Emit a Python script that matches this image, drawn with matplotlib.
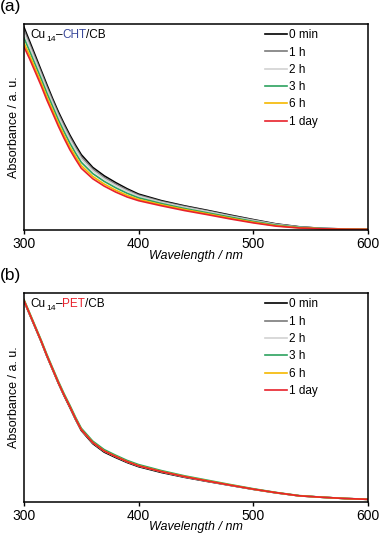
import numpy as np
from matplotlib import pyplot as plt

plt.rcParams['font.family'] = ['Liberation Sans', 'DejaVu Sans']

# wavelength grid (nm)
wl = [300, 305, 310, 315, 320, 325, 330, 335, 340, 345, 350, 360, 370, 380, 390,
      400, 420, 440, 460, 480, 500, 520, 540, 560, 580, 600]

labels = ['0 min', '1 h', '2 h', '3 h', '6 h', '1 day']
colors = ['#000000', '#7a7a7a', '#d2d2d2', '#2ca25f', '#f5b800', '#e8212b']

# (a) Cu14-CHT/CB
a_0min = [0.985, 0.915, 0.845, 0.775, 0.705, 0.637, 0.573, 0.515, 0.460, 0.410, 0.364, 0.302, 0.261,
          0.228, 0.198, 0.172, 0.140, 0.115, 0.093, 0.070, 0.048, 0.027, 0.013, 0.005, 0.002, 0.0]
a_1h = [0.971, 0.902, 0.833, 0.764, 0.694, 0.627, 0.563, 0.505, 0.450, 0.400, 0.354, 0.294, 0.253,
        0.221, 0.192, 0.167, 0.136, 0.112, 0.090, 0.067, 0.046, 0.025, 0.012, 0.005, 0.002, 0.0]
a_2h = [0.957, 0.890, 0.821, 0.752, 0.682, 0.616, 0.552, 0.494, 0.439, 0.390, 0.344, 0.286, 0.246,
        0.214, 0.186, 0.162, 0.132, 0.108, 0.087, 0.064, 0.043, 0.024, 0.011, 0.004, 0.002, 0.0]
a_3h = [0.933, 0.868, 0.801, 0.734, 0.664, 0.599, 0.534, 0.476, 0.421, 0.372, 0.327, 0.272, 0.234,
        0.203, 0.176, 0.154, 0.126, 0.102, 0.081, 0.060, 0.039, 0.021, 0.010, 0.004, 0.001, 0.0]
a_6h = [0.909, 0.847, 0.781, 0.715, 0.645, 0.581, 0.517, 0.458, 0.403, 0.355, 0.311, 0.258, 0.221,
        0.191, 0.166, 0.146, 0.120, 0.097, 0.076, 0.055, 0.035, 0.018, 0.008, 0.003, 0.001, 0.0]
a_1day = [0.890, 0.830, 0.765, 0.700, 0.630, 0.567, 0.503, 0.444, 0.389, 0.342, 0.298, 0.247, 0.211,
          0.182, 0.158, 0.140, 0.115, 0.092, 0.072, 0.051, 0.032, 0.016, 0.007, 0.003, 0.001, 0.0]

# (b) Cu14-PET/CB
b_0min = [0.962, 0.897, 0.832, 0.767, 0.697, 0.632, 0.567, 0.507, 0.451, 0.393, 0.340, 0.277, 0.236,
          0.210, 0.186, 0.166, 0.138, 0.115, 0.095, 0.076, 0.057, 0.040, 0.026, 0.019, 0.013, 0.009]
b_1h = [0.964, 0.899, 0.834, 0.769, 0.699, 0.634, 0.569, 0.509, 0.454, 0.396, 0.343, 0.281, 0.240,
        0.214, 0.189, 0.169, 0.141, 0.117, 0.097, 0.077, 0.058, 0.041, 0.026, 0.019, 0.013, 0.009]
b_2h = [0.966, 0.901, 0.836, 0.771, 0.701, 0.636, 0.571, 0.511, 0.456, 0.398, 0.345, 0.283, 0.242,
        0.216, 0.191, 0.171, 0.143, 0.118, 0.097, 0.077, 0.058, 0.041, 0.026, 0.019, 0.013, 0.009]
b_3h = [0.970, 0.905, 0.840, 0.775, 0.706, 0.641, 0.577, 0.517, 0.462, 0.404, 0.351, 0.289, 0.248,
        0.221, 0.196, 0.176, 0.147, 0.122, 0.101, 0.080, 0.060, 0.042, 0.027, 0.019, 0.013, 0.009]
b_6h = [0.966, 0.901, 0.836, 0.771, 0.701, 0.636, 0.571, 0.511, 0.456, 0.398, 0.345, 0.283, 0.242,
        0.216, 0.191, 0.171, 0.143, 0.119, 0.098, 0.078, 0.058, 0.041, 0.026, 0.019, 0.013, 0.009]
b_1day = [0.965, 0.900, 0.835, 0.770, 0.700, 0.635, 0.570, 0.510, 0.455, 0.397, 0.344, 0.282, 0.241,
          0.215, 0.190, 0.170, 0.142, 0.118, 0.097, 0.077, 0.058, 0.041, 0.026, 0.019, 0.013, 0.009]

series_a = [a_0min, a_1h, a_2h, a_3h, a_6h, a_1day]
series_b = [b_0min, b_1h, b_2h, b_3h, b_6h, b_1day]

fig = plt.figure(figsize=(3.8, 5.35), dpi=100)
ax_a = fig.add_axes([0.063, 0.570, 0.905, 0.385])
ax_b = fig.add_axes([0.063, 0.062, 0.905, 0.390])

FS = 8.5


def panel(ax, series, mid, mid_color, letter):
    for ys, lab, c in zip(series, labels, colors):
        ax.plot(wl, ys, color=c, lw=1.2, label=lab)
    ax.set_xlim(300, 600)
    ax.set_ylim(-0.003, 1.0)
    ax.set_xticks([300, 400, 500, 600])
    ax.set_yticks([])
    ax.tick_params(axis='x', direction='out', length=3, width=1, labelsize=10, pad=2)
    for sp in ax.spines.values():
        sp.set_linewidth(1.1)
    ax.set_xlabel('Wavelength / nm', style='italic', fontsize=9, labelpad=-1)
    ax.set_ylabel('Absorbance / a. u.', fontsize=9, labelpad=3)
    ax.legend(loc='upper left', frameon=False, fontsize=FS, handlelength=1.9,
              handletextpad=0.2, labelspacing=0.45, borderpad=0, borderaxespad=0,
              bbox_to_anchor=(0.70, 0.975))
    # sample name with coloured ligand part
    t1 = ax.text(0.02, 0.975, 'Cu', transform=ax.transAxes, fontsize=FS,
                 va='top', ha='left')
    sub = ax.annotate('14', xy=(1, 0), xycoords=t1, xytext=(0, -1.5), textcoords='offset points',
                      va='bottom', ha='left', fontsize=FS * 0.72)
    t2 = ax.annotate('\u2013', xy=(1, 0), xycoords=(sub, t1), va='bottom', ha='left', fontsize=FS)
    t3 = ax.annotate(mid, xy=(1, 0), xycoords=t2, va='bottom', ha='left',
                     fontsize=FS, color=mid_color)
    ax.annotate('/CB', xy=(1, 0), xycoords=t3, va='bottom', ha='left', fontsize=FS)
    fig.text(0.0, ax.get_position().y1 + 0.047, letter, fontsize=12.5, va='top', ha='left')


panel(ax_a, series_a, 'CHT', '#3b4a9c', '(a)')
panel(ax_b, series_b, 'PET', '#e8212b', '(b)')

fig.savefig('out.png', dpi=100)
